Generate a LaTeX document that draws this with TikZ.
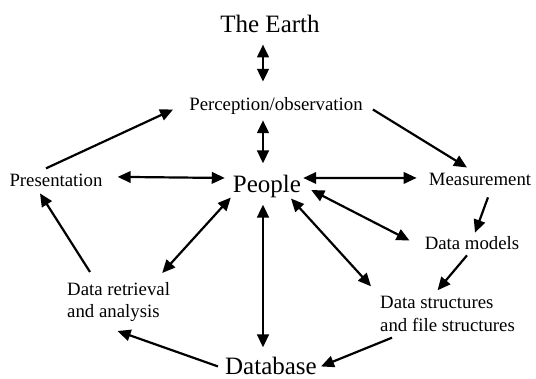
\documentclass[tikz,border=0pt]{standalone}
\usepackage{fontspec}
\setmainfont{Liberation Serif}
\usetikzlibrary{arrows.meta}

\tikzset{
  small/.style={inner sep=0pt, font=\fontsize{18.8}{22.5}\selectfont},
  big/.style={inner sep=0pt, font=\fontsize{25}{30}\selectfont},
  onetip/.style={line width=2.2pt, -{Triangle[length=13pt,width=11.5pt]}},
  twotip/.style={line width=2.2pt, {Triangle[length=13pt,width=11.5pt]}-{Triangle[length=13pt,width=11.5pt]}},
  heavy/.style={line width=2.9pt}
}

\begin{document}
\begin{tikzpicture}[x=1pt,y=-1pt]
\useasboundingbox (0,0) rectangle (536,379);
% the words, placed on their baselines
\node[big,anchor=base] (earth) at (270,33) {The Earth};
\node[small,anchor=base] (percep) at (276,111) {Perception/observation};
\node[small,anchor=base] (present) at (56,187) {Presentation};
\node[big,anchor=base] (people) at (267,193) {People};
\node[small,anchor=base] (measure) at (480,186) {Measurement};
\node[small,anchor=base] (models) at (472,250) {Data models};
\node[small,anchor=west,align=left] (structs) at (380,314) {Data structures\\and file structures};
\node[small,anchor=west,align=left] (retrieval) at (67,302) {Data retrieval\\and analysis};
\node[big,anchor=base] (database) at (271,375) {Database};
% two way arrows
\draw[twotip,heavy] ([shift={(-7,11)}]earth.south) -- ([shift={(-13,-16)}]percep.north);
\draw[twotip,heavy] ([shift={(-13,5)}]percep.south) -- ([shift={(-4,-12)}]people.north);
\draw[twotip,heavy] ([shift={(-4,6)}]people.south) -- ([shift={(-8,-10)}]database.north);
\draw[twotip] ([shift={(15,-4)}]present.east) -- ([shift={(-8,-9)}]people.west);
\draw[twotip] ([shift={(2,-9)}]people.east) -- ([shift={(-12,-2)}]measure.west);
\draw[twotip] ([shift={(10,3)}]people.east) -- ([shift={(-15,-3)}]models.west);
\draw[twotip] ([shift={(24,0)}]people.south) -- ([shift={(-9,-10)}]structs.north west);
\draw[twotip] ([shift={(-2,-1)}]people.south west) -- ([shift={(-8,-9)}]retrieval.north east);
% one way arrows, round the loop
\draw[onetip] ([shift={(-10,-6)}]present.north) -- ([shift={(-16,3)}]percep.west);
\draw[onetip] ([shift={(10,3)}]percep.east) -- ([shift={(-13,-6)}]measure.north);
\draw[onetip] ([shift={(8,11)}]measure.south) -- ([shift={(3,-4)}]models.north);
\draw[onetip] ([shift={(-5,5)}]models.south) -- ([shift={(-10,-6)}]structs.north);
\draw[onetip] ([shift={(12,6)}]structs.south west) -- ([shift={(4,0)}]database.east);
\draw[onetip] ([shift={(-7,0)}]database.west) -- ([shift={(-1,9)}]retrieval.south);
\draw[onetip] ([shift={(23,-10)}]retrieval.north west) -- ([shift={(-16,6)}]present.south);
\end{tikzpicture}
\end{document}
